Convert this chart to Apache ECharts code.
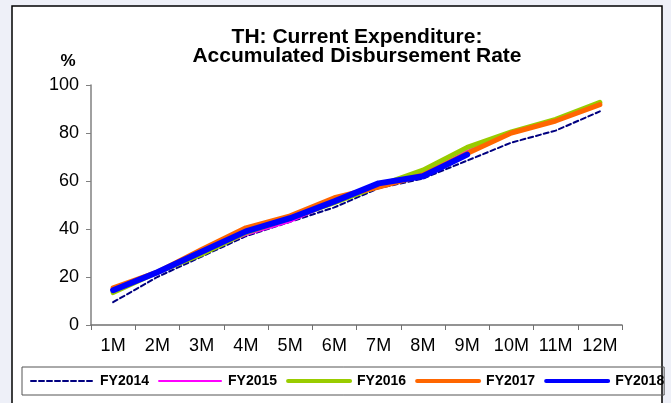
<!DOCTYPE html>
<html>
<head>
<meta charset="utf-8">
<script src="https://cdn.jsdelivr.net/npm/echarts@6/dist/echarts.min.js"></script>
<style>
  html, body { margin: 0; padding: 0; background: #eef0f8; }
  #chart { width: 671px; height: 403px; }
</style>
</head>
<body>
<div id="chart"></div>
<script>
// Months of the fiscal year
const months = ['1M', '2M', '3M', '4M', '5M', '6M', '7M', '8M', '9M', '10M', '11M', '12M'];

// Accumulated disbursement rate (%) per fiscal year
const fy2014 = [9.5, 20, 28.5, 37, 43, 49, 57, 61, 68.5, 76, 81, 89];
const fy2015 = [14.5, 22, 30, 37.5, 43, 51, 58.5, 63, 72.5, 80, 85.5, 92];
const fy2016 = [13.5, 22, 29.5, 38.5, 44.5, 51, 58, 64.5, 74, 80.5, 85.7, 92.8];
const fy2017 = [15.5, 22, 31.5, 40.5, 45.5, 53, 57.5, 62.5, 71.5, 80, 85, 91.8];
const fy2018 = [14.5, 22, 30.5, 39, 44.5, 51.5, 59, 62, 71];

const yTicks = { min: 0, max: 100, interval: 20 };

const chart = echarts.init(document.getElementById('chart'), null, { renderer: 'canvas' });

const font = 'Arial, "Liberation Sans", sans-serif';

function lineSeries(name, data, color, width, type) {
  return {
    name: name,
    type: 'line',
    data: data,
    symbol: 'none',
    smooth: false,
    z: 2,
    lineStyle: { color: color, width: width, type: type || 'solid', cap: 'round', join: 'round' },
    itemStyle: { color: color }
  };
}

chart.setOption({
  backgroundColor: '#eef0f8',
  animation: false,
  graphic: [
    {
      type: 'rect',
      shape: { x: 12, y: 6, width: 650, height: 420 },
      style: { fill: '#ffffff', stroke: '#000000', lineWidth: 1.5 },
      z: -10
    },
    {
      type: 'text',
      x: 68, y: 61,
      style: { text: '%', font: 'bold 17px ' + font, fill: '#000', textAlign: 'center', textVerticalAlign: 'middle' }
    }
  ],
  title: {
    text: 'TH: Current Expenditure:\nAccumulated Disbursement Rate',
    left: 357,
    textAlign: 'center',
    top: 28,
    padding: 0,
    textStyle: { fontFamily: font, fontWeight: 'bold', fontSize: 21, lineHeight: 19, color: '#000' }
  },
  legend: {
    left: 22,
    top: 367,
    width: 660,
    padding: [7, 0, 7, 8],
    itemGap: 9,
    itemWidth: 62,
    itemHeight: 14,
    borderColor: '#555555',
    borderWidth: 1,
    itemStyle: { opacity: 0 },
    textStyle: { fontFamily: font, fontWeight: 'bold', fontSize: 14, color: '#000', padding: [0, 0, 0, 2] },
    data: [
      { name: 'FY2014', lineStyle: { width: 2 } },
      { name: 'FY2015', lineStyle: { width: 2 } },
      { name: 'FY2016', lineStyle: { width: 4 } },
      { name: 'FY2017', lineStyle: { width: 4 } },
      { name: 'FY2018', lineStyle: { width: 4 } }
    ]
  },
  grid: { left: 91, right: 49, top: 85, bottom: 78, containLabel: false },
  xAxis: {
    type: 'category',
    data: months,
    boundaryGap: true,
    axisLine: { lineStyle: { color: '#707070', width: 1.5 } },
    axisTick: { show: true, alignWithLabel: false, interval: 0, length: 5, lineStyle: { color: '#707070' } },
    axisLabel: { color: '#000', fontFamily: font, fontSize: 18, margin: 12, interval: 0 },
    splitLine: { show: false }
  },
  yAxis: {
    type: 'value',
    min: yTicks.min,
    max: yTicks.max,
    interval: yTicks.interval,
    axisLine: { show: true, lineStyle: { color: '#808080', width: 1.5 } },
    axisTick: { show: true, length: 5, lineStyle: { color: '#808080' } },
    axisLabel: { color: '#000', fontFamily: font, fontSize: 18, margin: 12 },
    splitLine: { show: false }
  },
  series: [
    lineSeries('FY2014', fy2014, '#000080', 2, [5, 3]),
    lineSeries('FY2015', fy2015, '#ff00ff', 2),
    lineSeries('FY2016', fy2016, '#99cc00', 5),
    lineSeries('FY2017', fy2017, '#ff6600', 5),
    lineSeries('FY2018', fy2018, '#0000ff', 6)
  ]
});
</script>
</body>
</html>
